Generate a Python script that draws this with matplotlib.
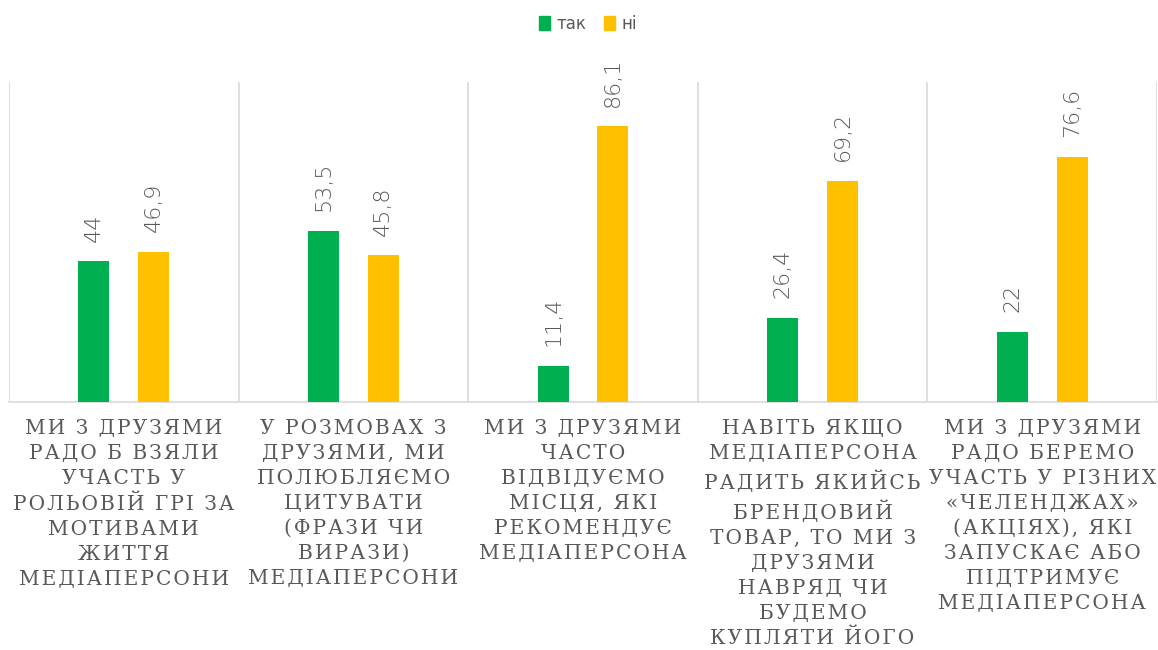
import numpy as np
import matplotlib.pyplot as plt
from matplotlib.patches import Patch

# Дані
categories = [
    "МИ З ДРУЗЯМИ\nРАДО Б ВЗЯЛИ\nУЧАСТЬ У\nРОЛЬОВІЙ ГРІ ЗА\nМОТИВАМИ\nЖИТТЯ\nМЕДІАПЕРСОНИ",
    "У РОЗМОВАХ З\nДРУЗЯМИ, МИ\nПОЛЮБЛЯЄМО\nЦИТУВАТИ\n(ФРАЗИ ЧИ\nВИРАЗИ)\nМЕДІАПЕРСОНИ",
    "МИ З ДРУЗЯМИ\nЧАСТО\nВІДВІДУЄМО\nМІСЦЯ, ЯКІ\nРЕКОМЕНДУЄ\nМЕДІАПЕРСОНА",
    "НАВІТЬ ЯКЩО\nМЕДІАПЕРСОНА\nРАДИТЬ ЯКИЙСЬ\nБРЕНДОВИЙ\nТОВАР, ТО МИ З\nДРУЗЯМИ\nНАВРЯД ЧИ\nБУДЕМО\nКУПЛЯТИ ЙОГО",
    "МИ З ДРУЗЯМИ\nРАДО БЕРЕМО\nУЧАСТЬ У РІЗНИХ\n«ЧЕЛЕНДЖАХ»\n(АКЦІЯХ), ЯКІ\nЗАПУСКАЄ АБО\nПІДТРИМУЄ\nМЕДІАПЕРСОНА",
]
tak = [44, 53.5, 11.4, 26.4, 22]
ni = [46.9, 45.8, 86.1, 69.2, 76.6]
series_names = ["так", "ні"]

green = "#00B050"
yellow = "#FFC000"
grid_c = "#D9D9D9"
text_c = "#595959"


def spaced(s):
    # імітація розрядки літер
    return "\n".join("\u200a".join(line) for line in s.split("\n"))


def fmt(v):
    return ("%g" % v).replace(".", ",")


fig = plt.figure(figsize=(11.58, 6.5), dpi=100)
ax = fig.add_axes([9 / 1158, 248 / 650, 1148 / 1158, 320 / 650])

x = np.arange(len(categories))
w = 0.135
off = 0.13
b1 = ax.bar(x - off, tak, w, color=green, zorder=3)
b2 = ax.bar(x + off, ni, w, color=yellow, zorder=3)

for bars, vals in [(b1, tak), (b2, ni)]:
    for b, v in zip(bars, vals):
        ax.annotate(fmt(v), (b.get_x() + b.get_width() / 2, v),
                    xytext=(0, 14), textcoords="offset points",
                    rotation=90, ha="center", va="bottom",
                    fontsize=16, color=text_c, family="DejaVu Sans",
                    fontweight="light")

ax.set_xlim(-0.5, len(categories) - 0.5)
ax.set_ylim(0, 100)
ax.set_yticks([])
ax.set_xticks([])
for xb in np.arange(-0.5, len(categories), 1.0):
    ax.axvline(xb, color=grid_c, lw=1.2, zorder=1)
for s in ["top", "left", "right"]:
    ax.spines[s].set_visible(False)
ax.spines["bottom"].set_color(grid_c)
ax.spines["bottom"].set_linewidth(1.2)

for i, c in enumerate(categories):
    ax.text(i, -5.3, spaced(c), ha="center", va="top", fontsize=14.5,
            family="DejaVu Serif", color=text_c, linespacing=1.4,
            transform=ax.transData)

handles = [Patch(color=green), Patch(color=yellow)]
fig.legend(handles, series_names, loc="center", bbox_to_anchor=(588 / 1158, 1 - 24 / 650),
           ncol=2, frameon=False, handlelength=0.7, handleheight=0.9,
           handletextpad=0.4, columnspacing=1.0,
           prop={"size": 12, "family": "DejaVu Sans"}, labelcolor=text_c)

fig.savefig("out.png", dpi=100)
